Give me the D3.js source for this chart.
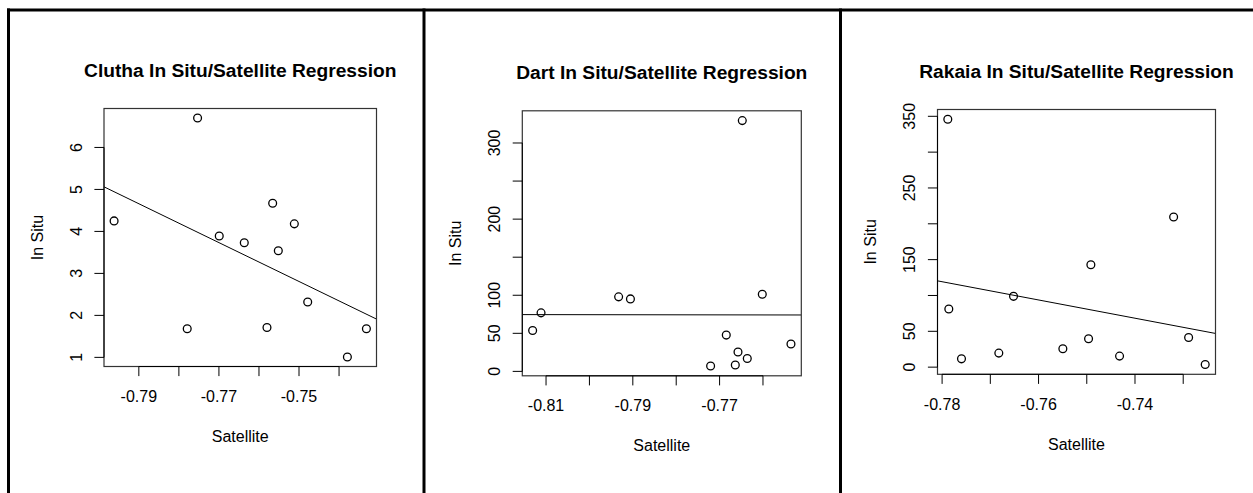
<!DOCTYPE html>
<html><head><meta charset="utf-8">
<script src="https://cdn.jsdelivr.net/npm/d3@7"></script>
<style>
html,body{margin:0;padding:0;background:#fff;}
svg{display:block;}
text{font-family:"Liberation Sans",Arial,Helvetica,sans-serif;fill:#000;}
</style></head>
<body>
<svg id="chart" width="1253" height="493"></svg>
<script>
// ---- data ----
const cluthaSat = [-0.79618,-0.77533,-0.77792,-0.76992,-0.76367,-0.75800,-0.75658,-0.75517,-0.75117,-0.74783,-0.73792,-0.73317];
const cluthaInSitu = [4.25,6.70,1.68,3.89,3.73,1.71,4.67,3.54,4.18,2.32,1.01,1.68];
const cluthaFit = [-31.91,-46.29]; // intercept, slope
const cluthaXTicks = [-0.79,-0.78,-0.77,-0.76,-0.75,-0.74];
const cluthaXLabels = ["-0.79","","-0.77","","-0.75",""];
const cluthaYTicks = [1,2,3,4,5,6];
const cluthaYLabels = ["1","2","3","4","5","6"];

const dartSat = [-0.81309,-0.81115,-0.79327,-0.79055,-0.77207,-0.76846,-0.76638,-0.76576,-0.76477,-0.76362,-0.76016,-0.75355];
const dartInSitu = [53.7,76.9,97.9,95.2,7.1,47.7,8.4,25.4,329.4,17.0,101.4,35.9];
const dartFit = [68.24,-7.8];
const dartXTicks = [-0.81,-0.80,-0.79,-0.78,-0.77,-0.76];
const dartXLabels = ["-0.81","","-0.79","","-0.77",""];
const dartYTicks = [0,50,100,150,200,250,300];
const dartYLabels = ["0","50","100","","200","","300"];

const rakaiaSat = [-0.77882,-0.77861,-0.77598,-0.76824,-0.76519,-0.75496,-0.74963,-0.74915,-0.74320,-0.73199,-0.72888,-0.72544];
const rakaiaInSitu = [345.8,81.2,11.6,19.6,98.8,25.6,39.6,142.8,15.4,209.4,41.4,3.7];
const rakaiaFit = [-873.9,-1273.2];
const rakaiaXTicks = [-0.78,-0.77,-0.76,-0.75,-0.74,-0.73];
const rakaiaXLabels = ["-0.78","","-0.76","","-0.74",""];
const rakaiaYTicks = [0,50,100,150,200,250,300,350];
const rakaiaYLabels = ["0","50","","150","","250","","350"];

const titles = ["Clutha In Situ/Satellite Regression","Dart In Situ/Satellite Regression","Rakaia In Situ/Satellite Regression"];
const xTitle = "Satellite", yTitle = "In Situ";

// ---- layout ----
const panels = [
  {title:titles[0], xs:cluthaSat, ys:cluthaInSitu, fit:cluthaFit, xt:cluthaXTicks, xl:cluthaXLabels, yt:cluthaYTicks, yl:cluthaYLabels, box:[104,376.5,108.5,366.5]},
  {title:titles[1], xs:dartSat, ys:dartInSitu, fit:dartFit, xt:dartXTicks, xl:dartXLabels, yt:dartYTicks, yl:dartYLabels, box:[522.3,801.3,110.8,375.8]},
  {title:titles[2], xs:rakaiaSat, ys:rakaiaInSitu, fit:rakaiaFit, xt:rakaiaXTicks, xl:rakaiaXLabels, yt:rakaiaYTicks, yl:rakaiaYLabels, box:[937.5,1215.5,109.5,374.3]}
];

const svg = d3.select("#chart");

// frame lines (table borders)
svg.append("line").attr("x1",7).attr("x2",1253).attr("y1",10).attr("y2",10).attr("stroke","#000").attr("stroke-width",3);
[8.5,424,840.5].forEach(x=>{
  svg.append("line").attr("x1",x).attr("x2",x).attr("y1",8.5).attr("y2",493).attr("stroke","#000").attr("stroke-width",3);
});

function rExt(arr){
  const [a,b]=d3.extent(arr); const e=(b-a)*0.04; return [a-e,b+e];
}

panels.forEach((p,i)=>{
  const [L,R,T,B]=p.box;
  const x=d3.scaleLinear().domain(rExt(p.xs)).range([L,R]);
  const y=d3.scaleLinear().domain(rExt(p.ys)).range([B,T]);
  const g=svg.append("g");
  const tick=9.6;

  // title
  g.append("text").attr("x",(L+R)/2).attr("y",T-32).attr("text-anchor","middle")
    .attr("font-size",19.2).attr("font-weight","bold").text(p.title);

  // clip for fit line
  const cid="clip"+i;
  svg.append("clipPath").attr("id",cid).append("rect").attr("x",L).attr("y",T).attr("width",R-L).attr("height",B-T);

  // regression line
  const [x0,x1]=x.domain();
  g.append("line").attr("clip-path",`url(#${cid})`)
    .attr("x1",x(x0)).attr("y1",y(p.fit[0]+p.fit[1]*x0))
    .attr("x2",x(x1)).attr("y2",y(p.fit[0]+p.fit[1]*x1))
    .attr("stroke","#000").attr("stroke-width",1);

  // points
  g.selectAll("circle.pt").data(p.xs.map((v,k)=>[v,p.ys[k]])).join("circle")
    .attr("cx",d=>x(d[0])).attr("cy",d=>y(d[1])).attr("r",3.9)
    .attr("fill","none").attr("stroke","#000").attr("stroke-width",1.3);

  // box
  g.append("rect").attr("x",L).attr("y",T).attr("width",R-L).attr("height",B-T)
    .attr("fill","none").attr("stroke","#333").attr("stroke-width",1.2);

  // x axis
  const xa=g.append("g");
  xa.append("line").attr("x1",x(p.xt[0])).attr("x2",x(p.xt[p.xt.length-1])).attr("y1",B).attr("y2",B).attr("stroke","#000");
  p.xt.forEach((t,k)=>{
    xa.append("line").attr("x1",x(t)).attr("x2",x(t)).attr("y1",B).attr("y2",B+tick).attr("stroke","#000");
    if(p.xl[k]) xa.append("text").attr("x",x(t)).attr("y",B+35.5).attr("text-anchor","middle").attr("font-size",16).text(p.xl[k]);
  });
  // y axis
  const ya=g.append("g");
  ya.append("line").attr("x1",L).attr("x2",L).attr("y1",y(p.yt[0])).attr("y2",y(p.yt[p.yt.length-1])).attr("stroke","#000");
  p.yt.forEach((t,k)=>{
    ya.append("line").attr("x1",L-tick).attr("x2",L).attr("y1",y(t)).attr("y2",y(t)).attr("stroke","#000");
    if(p.yl[k]) ya.append("text").attr("transform",`translate(${L-22.5},${y(t)}) rotate(-90)`)
      .attr("text-anchor","middle").attr("font-size",16).text(p.yl[k]);
  });

  // axis titles
  g.append("text").attr("x",(L+R)/2).attr("y",B+75.5).attr("text-anchor","middle").attr("font-size",16).text(xTitle);
  g.append("text").attr("transform",`translate(${L-61.5},${(T+B)/2}) rotate(-90)`)
    .attr("text-anchor","middle").attr("font-size",16).text(yTitle);
});
</script>
</body></html>
